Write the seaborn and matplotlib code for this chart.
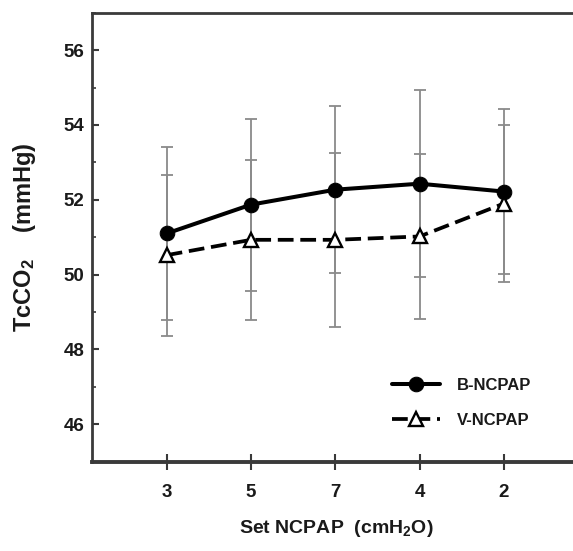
import numpy as np
import pandas as pd
import matplotlib
matplotlib.use("Agg")
import matplotlib.pyplot as plt
import seaborn as sns
from matplotlib.ticker import MultipleLocator

# ---- data ----
categories = ["3", "5", "7", "4", "2"]          # set NCPAP (cmH2O)
b_mean = [51.1, 51.87, 52.27, 52.43, 52.22]     # B-NCPAP
b_sd = [2.3, 2.3, 2.23, 2.5, 2.2]
v_mean = [50.52, 50.93, 50.93, 51.02, 51.9]     # V-NCPAP
v_sd = [2.15, 2.13, 2.33, 2.2, 2.1]
y_ticks = [46, 48, 50, 52, 54, 56]

sns.set_style("white")
plt.rcParams["font.family"] = ["Liberation Sans", "DejaVu Sans"]
plt.rcParams["font.weight"] = "bold"
plt.rcParams["mathtext.fontset"] = "custom"
plt.rcParams["mathtext.rm"] = "Liberation Sans:bold"
plt.rcParams["mathtext.bf"] = "Liberation Sans:bold"
plt.rcParams["mathtext.it"] = "Liberation Sans:italic:bold"

pos = np.arange(len(categories))
df = pd.DataFrame({
    "pos": np.concatenate([pos, pos]),
    "value": b_mean + v_mean,
    "sd": b_sd + v_sd,
    "series": ["B-NCPAP"] * len(pos) + ["V-NCPAP"] * len(pos),
})

fig = plt.figure(figsize=(5.73, 5.51), dpi=100)
ax = fig.add_axes([92 / 573, (551 - 461.7) / 551, (573 - 92) / 573, 449 / 551])

err_col = "#8a8a8a"
for name in ["B-NCPAP", "V-NCPAP"]:
    d = df[df.series == name]
    ax.errorbar(d.pos, d.value, yerr=d.sd, fmt="none", ecolor=err_col,
                elinewidth=1.3, capsize=4.5, capthick=1.3, zorder=1)

b = df[df.series == "B-NCPAP"]
v = df[df.series == "V-NCPAP"]
sns.lineplot(x=b.pos, y=b.value, ax=ax, color="black", marker="o",
             markersize=10.5, linewidth=2.9, markeredgecolor="black",
             label="B-NCPAP", zorder=3)
sns.lineplot(x=v.pos, y=v.value, ax=ax, color="black", marker="^",
             markersize=10.5, linewidth=2.7, markerfacecolor="white",
             markeredgecolor="black", markeredgewidth=1.7,
             linestyle=(0, (4.2, 1.8)), label="V-NCPAP", zorder=4)

ax.set_xlim(-0.886, 4.82)
ax.set_ylim(45, 57)
ax.set_xticks(pos)
ax.set_xticklabels(categories)
ax.set_yticks(y_ticks)
ax.yaxis.set_minor_locator(MultipleLocator(1))

spine_col = "#3a3a3a"
for s in ["left", "top", "bottom"]:
    ax.spines[s].set_visible(True)
    ax.spines[s].set_color(spine_col)
ax.spines["right"].set_visible(False)
ax.spines["left"].set_linewidth(2.0)
ax.spines["top"].set_linewidth(2.0)
ax.spines["bottom"].set_linewidth(2.8)

ax.tick_params(axis="x", which="major", direction="inout", length=12,
               width=1.5, color=spine_col, pad=10, labelsize=13.5,
               labelcolor="#1a1a1a", bottom=True)
ax.tick_params(axis="y", which="major", direction="in", length=5,
               width=1.5, color=spine_col, pad=5.5, labelsize=13.5,
               labelcolor="#1a1a1a", left=True)
ax.tick_params(axis="y", which="minor", direction="in", length=3,
               width=1.2, color=spine_col, left=True)

ax.set_xlabel("Set NCPAP  (cmH$_2$O)", fontsize=14, fontweight="bold",
              color="#1a1a1a")
ax.set_ylabel("TcCO$_2$    (mmHg)", fontsize=17, fontweight="bold",
              color="#1a1a1a")
ax.xaxis.set_label_coords(0.507, -0.125)
ax.yaxis.set_label_coords(-0.112, 0.5)

leg = ax.legend(loc="center left", bbox_to_anchor=(0.624, 0.13),
                frameon=False, fontsize=12, handlelength=2.9,
                handletextpad=1.0, labelspacing=1.2, borderpad=0,
                borderaxespad=0)
for t in leg.get_texts():
    t.set_color("#1a1a1a")

fig.savefig("out.png", dpi=100, facecolor="white")
